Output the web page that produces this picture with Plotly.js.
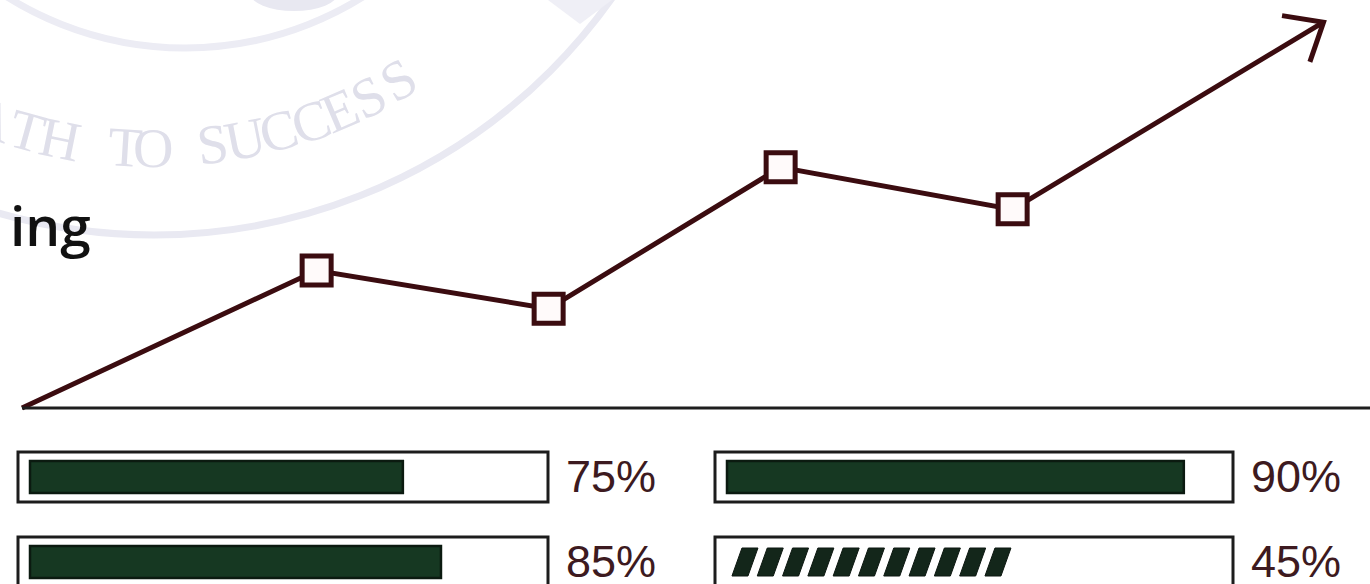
<!DOCTYPE html>
<html><head><meta charset="utf-8">
<script src="https://cdn.plot.ly/plotly-3.0.1.min.js"></script>
<style>html,body{margin:0;padding:0;background:#fff;overflow:hidden}#chart{width:1370px;height:584px}</style>
</head><body><div id="chart"></div>
<script>
// ---- trend line (baseline = 0, arrow tip = 101) ----
const trendX = [0, 1.27, 2.27, 3.27, 4.27, 5.61];
const trendY = [0, 36, 26, 63, 52, 101];
// ---- progress bars ----
const barLabels = ['75%', '85%', '90%', '45%'];
const barFill   = [73.4, 80.9, 92.1, 57.7];   // visible fill length, % of track
const barColumn = ['left', 'left', 'right', 'right'];
const barRow    = [0, 1, 0, 1];
const barHatched = [false, false, false, true];
// ---- decorative texts ----
const sideWord = 'ing';
const watermarkLetters = ['A','T','H','T','O','S','U','C','C','E','S','S'];

// ---------------- geometry helpers ----------------
const W = 1370, H = 584;
const lineColor = '#3b0c10';
const darkGreen = '#163822';
const labelColor = '#3d1a20';

// trend axes: 232 px per x unit, x=0 at 22px; 3.82 px per y unit, y=0 at 408px
const xPx = 232, x0px = 22, yPx = 3.82, y0px = 408;
// bars: rows 85px apart, first row centre at 477px
const rowPx = 85, row0px = 477;
const colL = {org: 30, ppu: 5.08, ax: 'x2'};
const colR = {org: 727, ppu: 4.96, ax: 'x3'};

const traces = [];
traces.push({x: trendX, y: trendY, type: 'scatter', mode: 'lines',
  line: {color: lineColor, width: 5}, xaxis: 'x', yaxis: 'y', hoverinfo: 'skip'});
traces.push({x: trendX.slice(1, 5), y: trendY.slice(1, 5), type: 'scatter', mode: 'markers',
  marker: {symbol: 'square', size: 29, color: '#fffafa', line: {color: lineColor, width: 5}},
  xaxis: 'x', yaxis: 'y', hoverinfo: 'skip'});

const shapes = [];
const annotations = [];
const px2paper = (x, y) => [x / W, 1 - y / H];

// watermark rings (paper coordinates)
function pxCircle(cx, cy, r, color, w) {
  shapes.push({type: 'circle', xref: 'paper', yref: 'paper', layer: 'below',
    x0: (cx - r) / W, x1: (cx + r) / W, y0: 1 - (cy + r) / H, y1: 1 - (cy - r) / H,
    line: {color: color, width: w}});
}
pxCircle(154, -326, 561, '#e9e9f2', 7);
pxCircle(185, -287, 335, '#ececf4', 7);
// faint emblem fragments at the top edge
shapes.push({type: 'circle', xref: 'paper', yref: 'paper', layer: 'below',
  x0: 250 / W, x1: 338 / W, y0: 1 - 11 / H, y1: 1 + 25 / H,
  fillcolor: '#e8e8f1', line: {width: 0}});
(function () {
  const p = [[548, 0], [612, 0], [580, 24]].map(q => px2paper(q[0], q[1]));
  shapes.push({type: 'path', xref: 'paper', yref: 'paper', layer: 'below',
    path: `M${p[0][0]},${p[0][1]} L${p[1][0]},${p[1][1]} L${p[2][0]},${p[2][1]} Z`,
    fillcolor: '#efeff6', line: {width: 0}});
})();

// watermark letters along the ring
const letterX = [-8, 27, 60, 125, 153, 212, 245, 278, 310, 340, 368, 398];
watermarkLetters.forEach((ch, i) => {
  const dx = letterX[i] - 154, r = 474;
  const py = -326 + Math.sqrt(r * r - dx * dx);
  annotations.push({text: ch, xref: 'paper', yref: 'paper', x: letterX[i] / W, y: 1 - py / H,
    xanchor: 'center', yanchor: 'middle', showarrow: false,
    textangle: -Math.asin(dx / r) * 180 / Math.PI,
    font: {family: 'Liberation Serif', size: 56, color: '#dfdfea'}});
});

// side word
annotations.push({text: sideWord, xref: 'paper', yref: 'paper', x: 93 / W, y: 1 - 224 / H,
  xanchor: 'right', yanchor: 'middle', showarrow: false,
  font: {family: 'Open Sans', size: 55, color: '#111111', weight: 600}});

// baseline
shapes.push({type: 'line', xref: 'x', yref: 'y', x0: 0, x1: (W - x0px) / xPx, y0: 0, y1: 0,
  line: {color: '#1e1e1e', width: 3}});

// open chevron arrow head at the end of the trend line (built in pixel space, mapped back to data)
(function () {
  const n = trendX.length;
  const tx = x0px + trendX[n - 1] * xPx, ty = y0px - trendY[n - 1] * yPx;
  const px = x0px + trendX[n - 2] * xPx, py = y0px - trendY[n - 2] * yPx;
  const ang = Math.atan2(ty - py, tx - px);
  const arm = 42, spread = 140 * Math.PI / 180;
  const pts = [ang - spread, ang + spread].map(a => [tx + arm * Math.cos(a), ty + arm * Math.sin(a)]);
  const toD = p => [(p[0] - x0px) / xPx, (y0px - p[1]) / yPx];
  const a = toD(pts[0]), b = toD(pts[1]);
  shapes.push({type: 'path', xref: 'x', yref: 'y',
    path: `M${a[0]},${a[1]} L${trendX[n - 1]},${trendY[n - 1]} L${b[0]},${b[1]}`,
    line: {color: lineColor, width: 5}});
})();

// bars
['left', 'right'].forEach(side => {
  const col = side === 'left' ? colL : colR;
  const xs = [], ys = [], colors = [], lines = [];
  barColumn.forEach((c, i) => {
    if (c !== side) return;
    xs.push(barFill[i]); ys.push(barRow[i]);
    colors.push(barHatched[i] ? 'rgba(0,0,0,0)' : darkGreen);
    lines.push(barHatched[i] ? 0 : 2.5);
    // outer track box
    const boxL = -12 / col.ppu, boxR = 100 + 10 / col.ppu;
    shapes.push({type: 'rect', xref: col.ax, yref: 'y2', layer: 'below',
      x0: boxL, x1: boxR, y0: barRow[i] - 25 / rowPx, y1: barRow[i] + 25 / rowPx,
      fillcolor: '#ffffff', line: {color: '#1c1c1c', width: 3}});
    // label
    annotations.push({text: barLabels[i], xref: col.ax, yref: 'y2', x: boxR, y: barRow[i],
      xanchor: 'left', yanchor: 'middle', xshift: 16, yshift: 1, showarrow: false,
      font: {family: 'Liberation Sans', size: 45, color: labelColor}});
    // hatched stripes
    if (barHatched[i]) {
      const start = 1, period = 25.3 / col.ppu, w = 16 / col.ppu, s = 10 / col.ppu;
      const cnt = Math.floor((barFill[i] - start - w - s) / period) + 1;
      const yt = barRow[i] - 14 / rowPx, yb = barRow[i] + 14 / rowPx;
      for (let k = 0; k < cnt; k++) {
        const xb = start + k * period;
        shapes.push({type: 'path', xref: col.ax, yref: 'y2',
          path: `M${xb},${yb} L${xb + w},${yb} L${xb + w + s},${yt} L${xb + s},${yt} Z`,
          fillcolor: '#13261a', line: {color: '#0c1710', width: 1}});
      }
    }
  });
  traces.push({type: 'bar', orientation: 'h', x: xs, y: ys, base: 0, width: 32 / rowPx,
    marker: {color: colors, line: {color: '#0b1a10', width: lines}},
    xaxis: col.ax, yaxis: 'y2', hoverinfo: 'skip'});
});

const hidden = {visible: false, showgrid: false, zeroline: false, fixedrange: true};
const layout = {
  width: W, height: H, margin: {l: 0, r: 0, t: 0, b: 0},
  paper_bgcolor: '#ffffff', plot_bgcolor: 'rgba(0,0,0,0)',
  showlegend: false, hovermode: false,
  xaxis: Object.assign({domain: [0, 1], anchor: 'y', range: [-x0px / xPx, (W - x0px) / xPx]}, hidden),
  yaxis: Object.assign({domain: [0, 1], anchor: 'x', range: [-(H - y0px) / yPx, y0px / yPx]}, hidden),
  xaxis2: Object.assign({domain: [0, 1], anchor: 'y2', range: [-colL.org / colL.ppu, (W - colL.org) / colL.ppu]}, hidden),
  xaxis3: Object.assign({domain: [0, 1], anchor: 'y2', range: [-colR.org / colR.ppu, (W - colR.org) / colR.ppu]}, hidden),
  yaxis2: Object.assign({domain: [0, 1], anchor: 'x2', range: [(H - row0px) / rowPx, -row0px / rowPx]}, hidden),
  shapes: shapes, annotations: annotations, bargap: 0
};
Plotly.newPlot('chart', traces, layout, {staticPlot: true, displayModeBar: false});
</script>
</body></html>
